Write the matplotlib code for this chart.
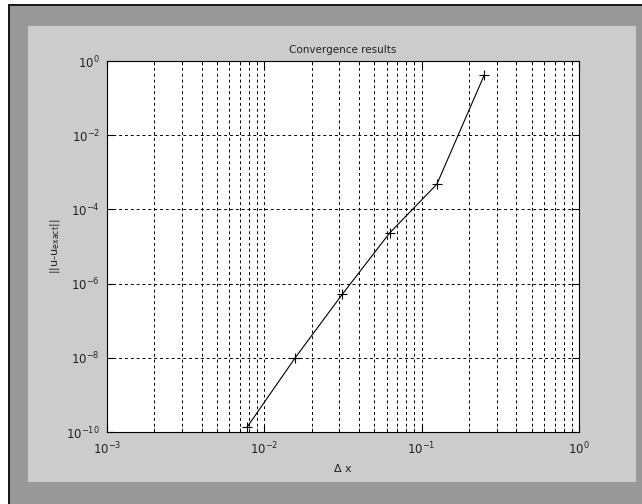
import numpy as np
import matplotlib
matplotlib.use('Agg')
import matplotlib.pyplot as plt
from matplotlib.patches import Rectangle
from matplotlib.ticker import LogLocator, NullLocator

# Convergence data (grid spacing vs. error norm)
dx = [0.0078125, 0.015625, 0.03125, 0.0625, 0.125, 0.25]
err = [1.4e-10, 9.7e-9, 5.1e-7, 2.3e-5, 4.8e-4, 0.42]

W, H = 642, 504
fig = plt.figure(figsize=(W / 100, H / 100), dpi=100)
fig.patch.set_facecolor('white')

# MATLAB-like window frame
fig.patches.append(Rectangle((8 / W, 0), (W - 8) / W, (H - 4) / H,
                             transform=fig.transFigure, facecolor='#1a1a1a',
                             edgecolor='none', zorder=-3))
fig.patches.append(Rectangle((10 / W, 0), (W - 10) / W, (H - 6) / H,
                             transform=fig.transFigure, facecolor='#999999',
                             edgecolor='none', zorder=-2))
fig.patches.append(Rectangle((28 / W, (H - 482) / H), (636 - 28) / W, (482 - 26) / H,
                             transform=fig.transFigure, facecolor='#cccccc',
                             edgecolor='none', zorder=-1))

ax = fig.add_axes([107 / W, (H - 432) / H, (579 - 107) / W, (432 - 61) / H])
ax.plot(dx, err, color='black', linewidth=0.8, marker='+', markersize=7,
        markeredgewidth=0.8)

ax.set_xscale('log')
ax.set_yscale('log')
ax.set_xlim(1e-3, 1e0)
ax.set_ylim(1e-10, 1e0)

ax.xaxis.set_major_locator(LogLocator(base=10, numticks=10))
ax.xaxis.set_minor_locator(LogLocator(base=10, subs=np.arange(2, 10), numticks=20))
ax.set_yticks([1e-10, 1e-8, 1e-6, 1e-4, 1e-2, 1e0])
ax.yaxis.set_minor_locator(NullLocator())

ax.grid(True, which='major', axis='both', color='black', linestyle=(0, (3, 3)), linewidth=0.7)
ax.grid(True, which='minor', axis='x', color='black', linestyle=(0, (3, 3)), linewidth=0.7)

ax.tick_params(which='both', direction='in', top=True, right=True, labelsize=8.5,
               labelcolor='#222222')
ax.tick_params(axis='x', pad=6)
ax.tick_params(axis='y', pad=5)
ax.tick_params(which='major', length=5)
ax.tick_params(which='minor', length=3)
for s in ax.spines.values():
    s.set_linewidth(0.8)

ax.set_title('Convergence results', fontsize=7.5, pad=6, color='#222222')
ax.set_xlabel(r'$\Delta$ x', fontsize=8, labelpad=4, color='#222222')
ax.set_ylabel(r'||u-u$_{\mathrm{exact}}$||', fontsize=8, labelpad=3, color='#222222')

fig.savefig('out.png', dpi=100, facecolor=fig.get_facecolor())
